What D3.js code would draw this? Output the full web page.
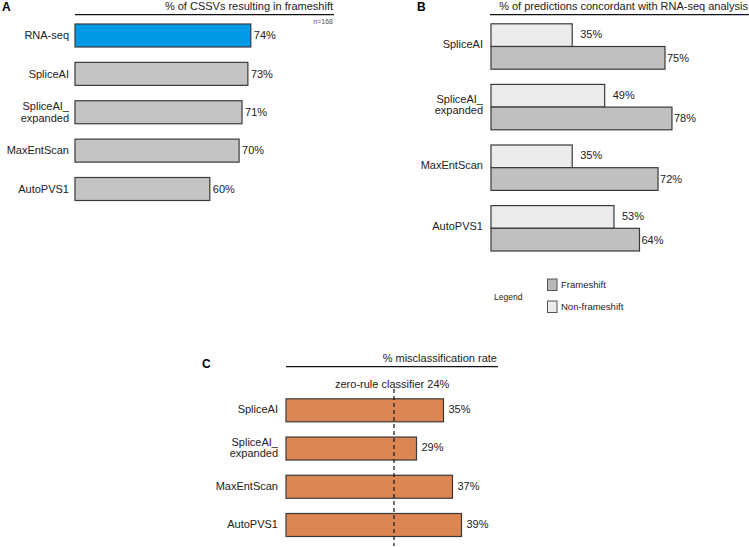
<!DOCTYPE html>
<html>
<head>
<meta charset="utf-8">
<script src="https://cdn.jsdelivr.net/npm/d3@7"></script>
<style>
  body { margin: 0; background: #fff; }
  text { font-family: "Liberation Sans", Arial, sans-serif; fill: #222; }
</style>
</head>
<body>
<svg id="chart" width="749" height="547"></svg>
<script>
// panel A: % of CSSVs resulting in frameshift
const catsA = ["RNA-seq", "SpliceAI", "SpliceAI_\nexpanded", "MaxEntScan", "AutoPVS1"]
const valsA = [74, 73, 71, 70, 60]

// panel B: % predictions concordant with RNA-seq
const catsB = ["SpliceAI", "SpliceAI_\nexpanded", "MaxEntScan", "AutoPVS1"]
const nonFrameB = [35, 49, 35, 53]
const frameB = [75, 78, 72, 64]

// panel C: misclassification rate
const catsC = ["SpliceAI", "SpliceAI_\nexpanded", "MaxEntScan", "AutoPVS1"]
const valsC = [35, 29, 37, 39]
const zeroRule = 24

const svg = d3.select("#chart")
const stroke = "#3a3a3a"

function catLabel(g, y, x, dyOff) {
  g.append("g").selectAll("text")
    .data(y.domain())
    .join("text")
      .attr("x", x)
      .attr("text-anchor", "end")
      .attr("font-size", 11)
      .each(function(d) {
        const lines = d.split("\n")
        const t = d3.select(this)
        lines.forEach((l, i) => {
          t.append("tspan")
            .attr("x", x)
            .attr("y", y(d) + dyOff + (i - (lines.length - 1) / 2) * 11.5)
            .attr("dy", "0.35em")
            .text(l)
        })
      })
}

function header(label, x0, x1, ly, txt) {
  svg.append("line")
    .attr("x1", x0).attr("x2", x1)
    .attr("y1", ly).attr("y2", ly)
    .attr("stroke", "#111").attr("stroke-width", 1.2)
  svg.append("text")
    .attr("x", x1 - 1).attr("y", ly - 5)
    .attr("text-anchor", "end")
    .attr("font-size", 11)
    .text(txt)
}

function letter(t, x, y) {
  svg.append("text").attr("x", x).attr("y", y)
    .attr("font-size", 12).attr("font-weight", "bold").style("fill", "#000")
    .text(t)
}

// ---------- A ----------
{
  const x = d3.scaleLinear().domain([14, 100]).range([75, 327])
  const y = d3.scalePoint().domain(catsA).range([35.5, 189])
  const h = 23
  letter("A", 2, 11)
  header("A", 75, 334, 14.7, "% of CSSVs resulting in frameshift")
  svg.append("text").attr("x", 333).attr("y", 23.5)
    .attr("text-anchor", "end").attr("font-size", 7).style("fill", "#555")
    .text("n=168")
  svg.append("g").selectAll("rect")
    .data(valsA)
    .join("rect")
      .attr("x", x(14))
      .attr("y", (d, i) => y(catsA[i]) - h / 2)
      .attr("width", d => x(d) - x(14))
      .attr("height", h)
      .attr("fill", (d, i) => i === 0 ? "#0099e6" : "#c4c4c4")
      .attr("stroke", stroke)
      .attr("stroke-width", 1.2)
  svg.append("g").selectAll("text")
    .data(valsA)
    .join("text")
      .attr("x", d => x(d) + 3)
      .attr("y", (d, i) => y(catsA[i]))
      .attr("dy", "0.35em")
      .attr("font-size", 11)
      .text(d => d + "%")
  catLabel(svg, y, 69, 0)
}

// ---------- B ----------
{
  const x = d3.scaleLinear().domain([0, 100]).range([491, 723])
  const y = d3.scalePoint().domain(catsB).range([46.5, 228.3])
  const h = 22.7
  letter("B", 417, 11)
  header("B", 490, 749, 14.7, "% of predictions concordant with RNA-seq analysis")
  const g = svg.append("g")
  g.selectAll("rect.nf")
    .data(nonFrameB)
    .join("rect")
      .attr("class", "nf")
      .attr("x", x(0))
      .attr("y", (d, i) => y(catsB[i]) - h)
      .attr("width", d => x(d) - x(0))
      .attr("height", h)
      .attr("fill", "#ececec")
      .attr("stroke", stroke).attr("stroke-width", 1.2)
  g.selectAll("rect.fs")
    .data(frameB)
    .join("rect")
      .attr("class", "fs")
      .attr("x", x(0))
      .attr("y", (d, i) => y(catsB[i]))
      .attr("width", d => x(d) - x(0))
      .attr("height", h)
      .attr("fill", "#c0c0c0")
      .attr("stroke", stroke).attr("stroke-width", 1.2)
  g.selectAll("text.nf")
    .data(nonFrameB)
    .join("text")
      .attr("class", "nf")
      .attr("x", d => x(d) + 8)
      .attr("y", (d, i) => y(catsB[i]) - h / 2 - 1)
      .attr("dy", "0.35em")
      .attr("font-size", 11)
      .text(d => d + "%")
  g.selectAll("text.fs")
    .data(frameB)
    .join("text")
      .attr("class", "fs")
      .attr("x", d => x(d) + 2)
      .attr("y", (d, i) => y(catsB[i]) + h / 2)
      .attr("dy", "0.35em")
      .attr("font-size", 11)
      .text(d => d + "%")
  catLabel(svg, y, 483, -2.5)

  // legend
  const legend = [["Frameshift", "#b8b8b8", 284.5], ["Non-frameshift", "#ececec", 306.5]]
  svg.append("text").attr("x", 494).attr("y", 297).attr("dy", "0.35em")
    .attr("font-size", 8.5).text("Legend")
  const lg = svg.append("g").selectAll("g").data(legend).join("g")
  lg.append("rect")
    .attr("x", 547.5).attr("y", d => d[2] - 5.5)
    .attr("width", 9.5).attr("height", 11.5)
    .attr("fill", d => d[1]).attr("stroke", "#555").attr("stroke-width", 1)
  lg.append("text")
    .attr("x", 561).attr("y", d => d[2]).attr("dy", "0.35em")
    .attr("font-size", 9.5).text(d => d[0])
}

// ---------- C ----------
{
  const x = d3.scaleLinear().domain([0, 100]).range([286, 736])
  const y = d3.scalePoint().domain(catsC).range([410.3, 525])
  const h = 23
  letter("C", 202, 368)
  header("C", 286, 498, 366.7, "% misclassification rate")
  svg.append("g").selectAll("rect")
    .data(valsC)
    .join("rect")
      .attr("x", x(0))
      .attr("y", (d, i) => y(catsC[i]) - h / 2)
      .attr("width", d => x(d) - x(0))
      .attr("height", h)
      .attr("fill", "#dc8753")
      .attr("stroke", stroke).attr("stroke-width", 1.2)
  svg.append("g").selectAll("text")
    .data(valsC)
    .join("text")
      .attr("x", d => x(d) + 5)
      .attr("y", (d, i) => y(catsC[i]) - 1)
      .attr("dy", "0.35em")
      .attr("font-size", 11)
      .text(d => d + "%")
  catLabel(svg, y, 278, -1)
  svg.append("line")
    .attr("x1", x(zeroRule)).attr("x2", x(zeroRule))
    .attr("y1", 389).attr("y2", 546)
    .attr("stroke", "#111").attr("stroke-width", 1.2)
    .attr("stroke-dasharray", "4,3")
  svg.append("text")
    .attr("x", 335).attr("y", 388)
    .attr("font-size", 11)
    .text("zero-rule classifier " + zeroRule + "%")
}
</script>
</body>
</html>
